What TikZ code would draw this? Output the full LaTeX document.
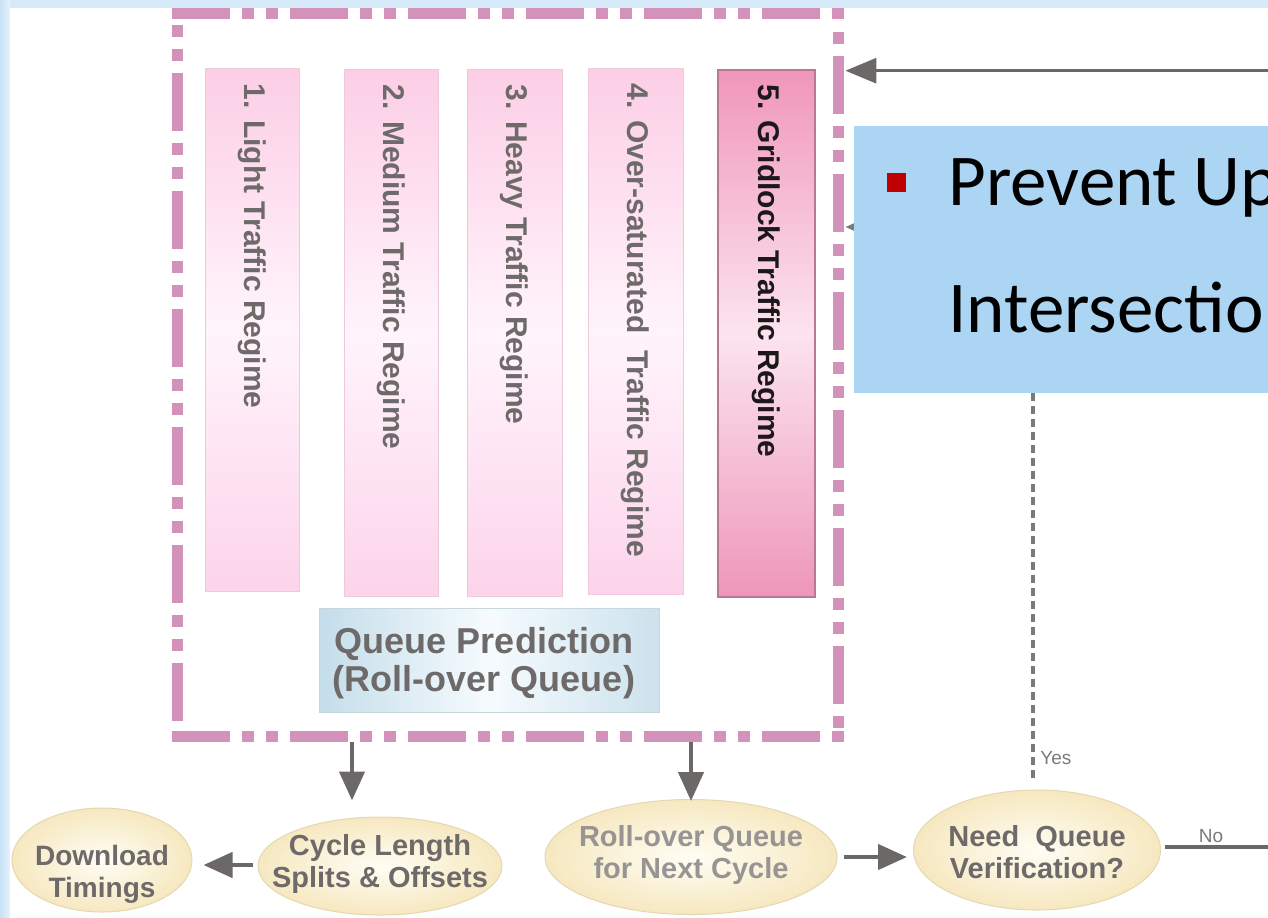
\documentclass[tikz,border=0pt]{standalone}
\usepackage{fontspec}
\setmainfont{Liberation Sans}
\newfontfamily\calibrifont{Carlito}
\usetikzlibrary{arrows.meta,calc,fit,shapes.geometric}

\definecolor{bgblue}{RGB}{214,234,249}
\definecolor{bgside}{RGB}{200,226,247}
\definecolor{framepink}{RGB}{211,146,186}
\definecolor{barA}{RGB}{252,206,230}
\definecolor{barB}{RGB}{255,244,251}
\definecolor{barC}{RGB}{252,212,235}
\definecolor{barline}{RGB}{236,202,220}
\definecolor{hotA}{RGB}{240,150,187}
\definecolor{hotB}{RGB}{252,228,238}
\definecolor{hotC}{RGB}{238,150,186}
\definecolor{hotline}{RGB}{185,120,150}
\definecolor{txtgrey}{RGB}{110,106,106}
\definecolor{txtdark}{RGB}{28,24,26}
\definecolor{qA}{RGB}{196,221,234}
\definecolor{qB}{RGB}{246,251,254}
\definecolor{qline}{RGB}{200,214,222}
\definecolor{ovalin}{RGB}{255,253,244}
\definecolor{ovalout}{RGB}{246,232,192}
\definecolor{ovalline}{RGB}{228,216,178}
\definecolor{arrowgrey}{RGB}{108,104,103}
\definecolor{dashgrey}{RGB}{122,122,122}
\definecolor{noteblue}{RGB}{172,213,243}
\definecolor{bulletred}{RGB}{192,0,0}

\begin{document}
\begin{tikzpicture}[x=0.5pt,y=-0.5pt,
  framedash/.style={draw=framepink, line width=5.5pt,
    dash pattern=on 29pt off 6pt on 6pt off 6pt on 6pt off 6pt},
  regbar/.style={draw=barline, line width=0.5pt, inner sep=0pt,
    top color=barA, bottom color=barC, middle color=barB},
  hotbar/.style={draw=hotline, line width=0.6pt, inner sep=0pt,
    top color=hotA, bottom color=hotC, middle color=hotB},
  bartxt/.style={font=\bfseries\fontsize{15pt}{18pt}\selectfont, text=txtgrey,
    inner sep=0pt, anchor=west, rotate=-90},
  oval/.style={ellipse, draw=ovalline, line width=0.5pt, inner sep=0pt,
    inner color=ovalin, outer color=ovalout},
  ovaltxt/.style={align=center, inner sep=0pt,
    font=\bfseries\fontsize{14.5pt}{16pt}\selectfont, text=txtgrey},
  arr/.style={draw=arrowgrey, line width=2.2pt,
    -{Triangle[length=14.5pt,width=12.5pt]}},
  label/.style={font=\fontsize{9.5pt}{10pt}\selectfont, text=dashgrey, inner sep=0pt}
]
\useasboundingbox (0,0) rectangle (1268,917);
\clip (0,0) rectangle (1268,917);

% slide background
\fill[bgblue] (0,0) rectangle (1268,917);
\shade[left color=bgside, right color=bgblue!60!white] (0,0) rectangle (10,917);
\fill[white] (10,8) rectangle (1268,917);

% traffic regime bars
\node[regbar, fit={(205,68) (299,591)}] (b1) {};
\node[regbar, fit={(344,69) (438,596)}] (b2) {};
\node[regbar, fit={(467,69) (562,596)}] (b3) {};
\node[regbar, fit={(588,68) (683,594)}] (b4) {};
\node[hotbar, fit={(718,70) (815,597)}] (b5) {};

\node[bartxt] (t1) at ($(b1.north)+(0,16)$) {1. Light Traffic Regime};
\node[bartxt] (t2) at ($(b2.north)+(0,16)$) {2. Medium Traffic Regime};
\node[bartxt] (t3) at ($(b3.north)+(0,16)$) {3. Heavy Traffic Regime};
\node[bartxt] (t4) at ($(b4.north)+(0,16)$) {4. Over-saturated~ Traffic Regime};
\node[bartxt, text=txtdark] (t5) at ($(b5.north)+(0,15)$) {5. Gridlock Traffic Regime};

% queue prediction box
\node[draw=qline, line width=0.5pt, inner sep=0pt,
  left color=qA, right color=qA!85!white, middle color=qB,
  fit={(319,608) (659,712)}] (qp) {};
\node[font=\bfseries\fontsize{18pt}{19pt}\selectfont, text=txtgrey, align=center,
  inner sep=0pt] (qpt) at ($(qp.center)+(-5,3)$) {Queue Prediction\\(Roll-over Queue)};

% dash-dot-dot frame around the regimes
\node[fit={(178,14) (838,736)}, inner sep=0pt] (frame) {};
\draw[framedash] ($(frame.north west)+(-5.5,0)$) -- ($(frame.north east)+(5.5,0)$);
\draw[framedash, dash phase=41pt] ($(frame.north east)+(0,6)$) -- ($(frame.south east)+(0,5.5)$);
\draw[framedash] ($(frame.south west)+(-5.5,0)$) -- ($(frame.south east)+(5.5,0)$);
\draw[framedash, dash phase=26.5pt] ($(frame.north west)+(0,-6)$) -- ($(frame.south west)+(0,5.5)$);

% decision and output ovals
\node[oval, minimum width=90pt, minimum height=52pt] (dl) at (102,860) {};
\node[oval, minimum width=122pt, minimum height=49pt] (cyc) at (380,866) {};
\node[oval, minimum width=146pt, minimum height=57.5pt] (roll) at (691,857) {};
\node[oval, minimum width=123.5pt, minimum height=60pt] (need) at (1037,850) {};

\node[ovaltxt, font=\bfseries\fontsize{14pt}{16pt}\selectfont] (dlt) at ($(dl.center)+(0,14)$) {Download\\Timings};
\node[ovaltxt] (cyct) at ($(cyc.center)+(0,-2)$) {Cycle Length\\Splits \& Offsets};
\node[ovaltxt, text=txtgrey!72!white] (rollt) at ($(roll.center)+(0,-2)$) {Roll-over Queue\\for Next Cycle};
\node[ovaltxt] (needt) at ($(need.center)+(0,2)$) {Need~ Queue\\Verification?};

% connectors
\draw[arr] ($(cyc.north |- frame.south)+(-28,6)$) -- ($(cyc.north)+(-28,-16)$);
\draw[arr] ($(roll.north |- frame.south)+(0,6)$) -- ($(roll.north)+(0,2)$);
\draw[arr] ($(cyc.west)+(-5,-1)$) -- ($(dl.east |- cyc.west)+(11,-1)$);
\draw[arr] ($(roll.east)+(6,0)$) -- ($(need.west |- roll.east)+(-6,0)$);

\coordinate (yesin) at (845,227);
\coordinate (loopin) at (1268,70.7);
\coordinate (noout) at (1268,847);
\draw[draw=dashgrey, line width=2.3pt, dash pattern=on 4pt off 2.5pt,
  -{Triangle[length=10pt,width=8pt]}]
  ($(need.north)+(-4,-12)$) |- (yesin);
\draw[draw=arrowgrey, line width=2pt] ($(need.east |- noout)+(4,0)$) -- (noout);
\draw[draw=arrowgrey, line width=1.5pt, -{Triangle[length=15.5pt,width=12.5pt]}]
  (loopin) -- ($(frame.east |- loopin)+(7,0)$);

\node[label, anchor=west] (yes) at (1040,758) {Yes};
\node[label] (no) at (1211,836) {No};

% callout note
\node[fill=noteblue, inner sep=0pt, fit={(854,126) (1290,393)}] (note) {};
\node[fill=bulletred, minimum size=9.5pt, inner sep=0pt] (bul) at (896.5,182.5) {};
\node[font=\calibrifont\fontsize{36.5pt}{40pt}\selectfont, anchor=base west, inner sep=0pt]
  (l1) at (948,205) {Prevent Up};
\node[font=\calibrifont\fontsize{36.5pt}{40pt}\selectfont, anchor=base west, inner sep=0pt]
  (l2) at (948,332) {Intersectio};
\end{tikzpicture}
\end{document}
